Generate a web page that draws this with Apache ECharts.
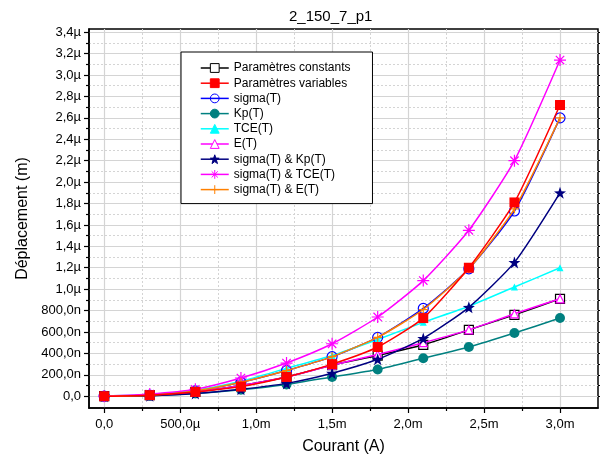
<!DOCTYPE html>
<html>
<head>
<meta charset="utf-8">
<script src="https://cdn.jsdelivr.net/npm/echarts@6/dist/echarts.min.js"></script>
<style>
  html, body { margin: 0; padding: 0; background: #fff; }
  #chart { width: 600px; height: 461px; }
</style>
</head>
<body>
<div id="chart"></div>
<script>
// courant en mA, deplacement en µm
var courant = [0, 0.3, 0.6, 0.9, 1.2, 1.5, 1.8, 2.1, 2.4, 2.7, 3.0];

var paramConstants = [0, 0.01, 0.04, 0.10, 0.18, 0.29, 0.38, 0.48, 0.62, 0.76, 0.91];
var paramVariables = [0, 0.01, 0.04, 0.09, 0.18, 0.30, 0.46, 0.73, 1.20, 1.81, 2.72];
var sigmaT = [0, 0.01, 0.05, 0.13, 0.24, 0.37, 0.55, 0.82, 1.19, 1.73, 2.60];
var kpT = [0, 0.005, 0.025, 0.06, 0.11, 0.18, 0.25, 0.355, 0.46, 0.59, 0.73];
var tceT = [0, 0.015, 0.055, 0.14, 0.26, 0.38, 0.53, 0.69, 0.84, 1.02, 1.20];
var eT = [0, 0.01, 0.04, 0.10, 0.18, 0.29, 0.39, 0.50, 0.62, 0.77, 0.91];
var sigmaKp = [0, 0.005, 0.025, 0.065, 0.12, 0.215, 0.345, 0.54, 0.83, 1.25, 1.90];
var sigmaTce = [0, 0.02, 0.065, 0.17, 0.31, 0.49, 0.74, 1.08, 1.55, 2.20, 3.14];
var sigmaE = [0, 0.01, 0.05, 0.13, 0.24, 0.37, 0.55, 0.81, 1.19, 1.75, 2.60];

var xTicks = [0, 0.5, 1.0, 1.5, 2.0, 2.5, 3.0];
var xMinorTicks = [0.25, 0.75, 1.25, 1.75, 2.25, 2.75];
var yTicks = [0, 0.2, 0.4, 0.6, 0.8, 1.0, 1.2, 1.4, 1.6, 1.8, 2.0, 2.2, 2.4, 2.6, 2.8, 3.0, 3.2, 3.4];
var yMinorTicks = [0.1, 0.3, 0.5, 0.7, 0.9, 1.1, 1.3, 1.5, 1.7, 1.9, 2.1, 2.3, 2.5, 2.7, 2.9, 3.1, 3.3];

var FONT = 'Liberation Sans, Arial, sans-serif';
var starPath = 'path://M10,0 L12.35,6.76 L19.51,6.91 L13.8,11.24 L15.88,18.09 L10,14 L4.12,18.09 L6.2,11.24 L0.49,6.91 L7.65,6.76 Z';
var asteriskPath = 'path://M0,10 L20,10 M10,0 L10,20 M3,3 L17,17 M17,3 L3,17';
var plusPath = 'path://M0,10 L20,10 M10,0 L10,20';

function pairs(ys) {
  return courant.map(function (x, i) { return [x, ys[i]]; });
}

function fmtX(v) {
  if (v === 0) return '0,0';
  if (v < 1) return (v * 1000).toFixed(1).replace('.', ',') + 'µ';
  return v.toFixed(1).replace('.', ',') + 'm';
}
function fmtY(v) {
  if (Math.abs(v) < 1e-9) return '0,0';
  if (v < 0.999) return (v * 1000).toFixed(1).replace('.', ',') + 'n';
  return v.toFixed(1).replace('.', ',') + 'µ';
}

function mkSeries(name, data, color, symbol, size, fill, bw, z) {
  return {
    name: name,
    type: 'line',
    data: pairs(data),
    smooth: 0.2,
    symbol: symbol,
    symbolSize: size,
    z: z || 2,
    lineStyle: { color: color, width: 1.5 },
    itemStyle: { color: fill, borderColor: color, borderWidth: bw },
    emphasis: { disabled: true }
  };
}

var chart = echarts.init(document.getElementById('chart'), null, { renderer: 'canvas' });

var option = {
  animation: false,
  backgroundColor: '#fff',
  textStyle: { fontFamily: FONT },
  title: {
    text: '2_150_7_p1',
    left: 284,
    top: 4,
    textStyle: { fontSize: 15, fontWeight: 'normal', color: '#000', fontFamily: FONT }
  },
  grid: {
    left: 89, right: 2, top: 29, bottom: 53,
    show: true, borderColor: '#000', borderWidth: 1.5, backgroundColor: 'transparent'
  },
  legend: {
    orient: 'vertical',
    left: 181,
    top: 52,
    padding: [10, 22, 8, 19],
    itemWidth: 28,
    itemHeight: 11,
    itemGap: 3.2,
    borderColor: '#000',
    borderWidth: 1,
    backgroundColor: '#fff',
    itemStyle: { borderWidth: 1 },
    lineStyle: { width: 1.5 },
    textStyle: { fontSize: 12, color: '#000', fontFamily: FONT }
  },
  xAxis: [
    {
      type: 'value', min: -0.1, max: 3.25, position: 'bottom',
      name: 'Courant (A)', nameLocation: 'middle', nameGap: 31,
      nameTextStyle: { fontSize: 16, color: '#000', fontFamily: FONT },
      axisLine: { show: true, onZero: false, lineStyle: { color: '#000', width: 1.5 } },
      axisTick: { show: true, customValues: xTicks, length: 5, lineStyle: { color: '#000', width: 1.2 } },
      axisLabel: { customValues: xTicks, formatter: fmtX, fontSize: 13, color: '#000', margin: 10, fontFamily: FONT },
      splitLine: { show: true, lineStyle: { color: '#d4d4d4', width: 1.2 } }
    },
    {
      type: 'value', min: -0.1, max: 3.25, position: 'bottom',
      axisLine: { show: false, onZero: false },
      axisTick: { show: true, customValues: xMinorTicks, length: 3, lineStyle: { color: '#000', width: 1.2 } },
      axisLabel: { show: false },
      splitLine: { show: true, lineStyle: { color: '#d4d4d4', width: 1, type: [2, 2] } }
    }
  ],
  yAxis: [
    {
      type: 'value', min: -0.11, max: 3.43, position: 'left',
      name: 'Déplacement (m)', nameLocation: 'middle', nameGap: 58,
      nameTextStyle: { fontSize: 16, color: '#000', fontFamily: FONT },
      axisLine: { show: true, onZero: false, lineStyle: { color: '#000', width: 1.5 } },
      axisTick: { show: true, customValues: yTicks, length: 5, lineStyle: { color: '#000', width: 1.2 } },
      axisLabel: { customValues: yTicks, formatter: fmtY, fontSize: 13, color: '#000', margin: 8, fontFamily: FONT },
      splitLine: { show: true, lineStyle: { color: '#d4d4d4', width: 1.2 } }
    },
    {
      type: 'value', min: -0.11, max: 3.43, position: 'left',
      axisLine: { show: false, onZero: false },
      axisTick: { show: true, customValues: yMinorTicks, length: 3, lineStyle: { color: '#000', width: 1.2 } },
      axisLabel: { show: false },
      splitLine: { show: true, lineStyle: { color: '#d4d4d4', width: 1, type: [2, 2] } }
    },
    {
      type: 'value', min: -0.11, max: 3.43, position: 'right',
      axisLine: { show: false, onZero: false },
      axisTick: { show: true, customValues: yTicks.concat(yMinorTicks), length: 3, lineStyle: { color: '#000', width: 1.2 } },
      axisLabel: { show: false },
      splitLine: { show: false }
    }
  ],
  series: [
    mkSeries('Paramètres constants', paramConstants, '#000000', 'rect', 9, '#ffffff', 1.2, 3),
    mkSeries('Paramètres variables', paramVariables, '#ff0000', 'rect', 10, '#ff0000', 0, 6),
    mkSeries('sigma(T)', sigmaT, '#0000ff', 'circle', 10, 'rgba(255,255,255,0)', 1.2, 3),
    mkSeries('Kp(T)', kpT, '#008080', 'circle', 10, '#008080', 0, 3),
    mkSeries('TCE(T)', tceT, '#00ffff', 'triangle', 7, '#00ffff', 0, 3),
    mkSeries('E(T)', eT, '#ff00ff', 'triangle', 8, '#ffffff', 1.2, 4),
    mkSeries('sigma(T) & Kp(T)', sigmaKp, '#000080', starPath, 12, '#000080', 0, 4),
    mkSeries('sigma(T) & TCE(T)', sigmaTce, '#ff00ff', asteriskPath, 12, '#ff00ff', 1.2, 4),
    mkSeries('sigma(T) & E(T)', sigmaE, '#ff8000', plusPath, 9, '#ff8000', 1.2, 5)
  ]
};

chart.setOption(option);
</script>
</body>
</html>
